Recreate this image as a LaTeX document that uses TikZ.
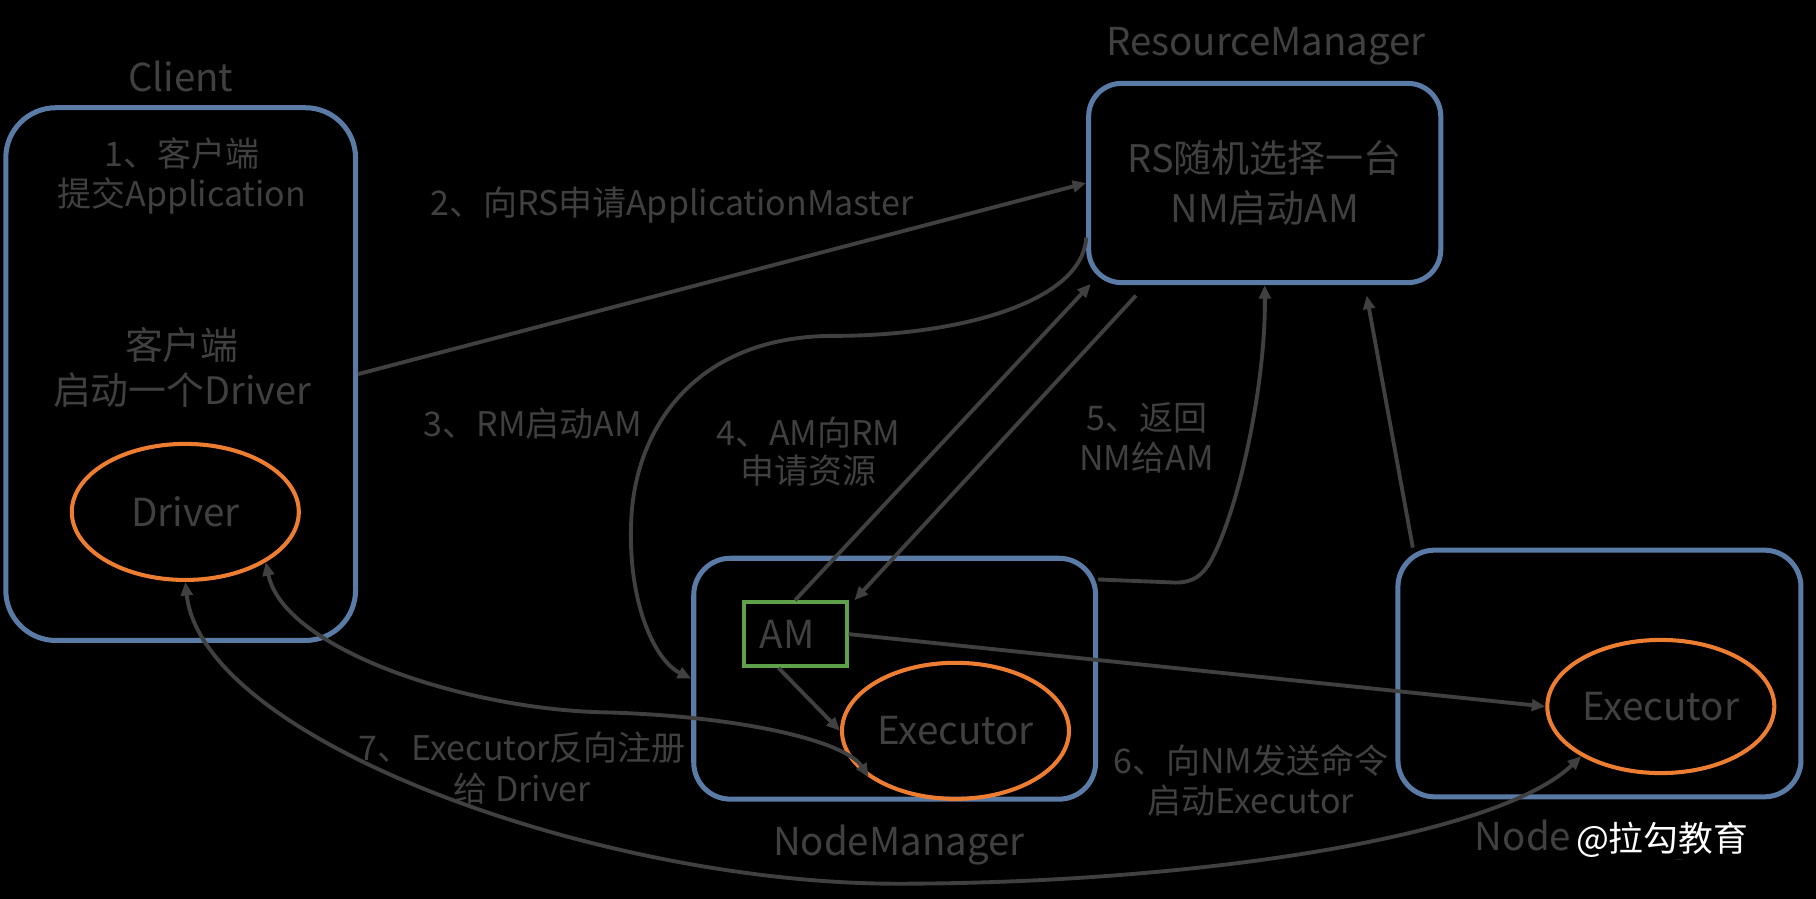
\documentclass[tikz,border=0pt]{standalone}
\usepackage{fontspec}
\setmainfont{Noto Sans CJK SC}
\usepackage{tikz}
\usetikzlibrary{
  arrows.meta,
  shapes.geometric,
  positioning
}
\definecolor{ykBox}{HTML}{5A7BA6}
\definecolor{ykExec}{HTML}{ED7D31}
\definecolor{ykAM}{HTML}{5FA04B}
\definecolor{ykText}{HTML}{404040}
\definecolor{ykLine}{HTML}{404040}
\tikzset{
  host/.style={draw=ykBox, line width=2.6pt, rounded corners=19pt},
  proc/.style={
    draw=ykExec, ellipse, line width=2.1pt, inner sep=0pt,
    minimum width=117.6pt, minimum height=70.5pt,
    text=ykText, font=\fontsize{20}{24}\selectfont
  },
  amrole/.style={
    draw=ykAM, line width=2.1pt, minimum width=53.4pt, minimum height=33pt,
    inner xsep=8.4pt, text width=36.6pt, align=left,
    text=ykText, font=\fontsize{20}{24}\selectfont
  },
  title/.style={text=ykText, font=\fontsize{19.9}{23}\selectfont},
  hosttext/.style={text=ykText, align=center, font=\fontsize{19.7}{26.4}\selectfont},
  note/.style={text=ykText, align=center, font=\fontsize{17.6}{21}\selectfont},
  link/.style={-{Triangle[length=7pt,width=6pt]}, line width=2pt, draw=ykLine},
  twoway/.style={link, {Triangle[length=7pt,width=6pt]}-{Triangle[length=7pt,width=6pt]}},
  stamp/.style={text=white, fill=black, inner sep=1pt, font=\fontsize{18}{22}\selectfont}
}
\begin{document}
\begin{tikzpicture}[x=0.6pt, y=-0.6pt]
  \fill[black] (0,0) rectangle (1568,776);

  % hosts
  \node[host, rounded corners=26pt, minimum width=181.2pt, minimum height=276pt] (client) at (156,323) {};
  \node[host, rounded corners=17pt, minimum width=182.4pt, minimum height=103.2pt, hosttext] (rm) at (1092,158) {RS随机选择一台\\NM启动AM};
  \node[host, minimum width=208.2pt, minimum height=124.8pt] (nm) at (772.5,586) {};
  \node[host, minimum width=208.8pt, minimum height=127.8pt] (nm2) at (1381,581.5) {};

  \node[title] (clientT) at (156,66) {Client};
  \node[title] (rmT) at (1093,40) {ResourceManager};
  \node[title] (nmT) at (776,730) {NodeManager};
  \node[title] (nm2T) at (1382,725) {NodeManager};

  \node[note] (submit) at (157,152) {1、客户端\\提交Application};
  \node[hosttext, font=\fontsize{19.6}{23.4}\selectfont] (start) at (157,317) {客户端\\启动一个Driver};

  % processes
  \node[proc] (driver) at (160,442) {Driver};
  \node[proc] (exec) at (825,631) {Executor};
  \node[proc, minimum height=69pt] (exec2) at (1434,610) {Executor};
  \node[amrole] (am) at (686.5,547.5) {AM};

  % steps
  \node[note] (s2) at (580,177) {2、向RS申请ApplicationMaster};
  \node[note] (s3) at (460,366) {3、RM启动AM};
  \node[note, font=\fontsize{17.6}{19.8}\selectfont] (s4) at (698,390) {4、AM向RM\\申请资源};
  \node[note] (s5) at (990,378) {5、返回\\NM给AM};
  \node[note] (s6) at (1080,674) {6、向NM发送命令\\启动Executor};
  \node[note] (s7) at (451,663) {7、Executor反向注册\\给 Driver};

  \draw[link] (client.east) -- (rm.west);
  \draw[link] (rm.197) .. controls (935,260) and (830,290) .. (720,290)
    .. controls (600,290) and (548,370) .. (545,450)
    .. controls (542,520) and (565,570) .. (nm.west);
  \draw[link] (am.north) -- ([shift={(4,-1)}]rm.south west);
  \draw[link] ([shift={(43,9)}]rm.south west) -- ([xshift=3pt]am.north east);
  \draw[link] (nm.26) -- (1015,503) .. controls (1030,503) and (1038,497) .. (1045,485)
    .. controls (1070,440) and (1093,330) .. (rm.south);
  \draw[link] (nm2.146) -- ([shift={(88,9)}]rm.south);
  \draw[link] (am.east) -- (exec2.west);
  \draw[link] (am.-116) -- (exec.west);
  \draw[twoway] (driver.-32) .. controls (245,560) and (400,612) .. (520,615)
    .. controls (640,618) and (730,640) .. (exec.208);
  \draw[twoway] (driver.south) .. controls (175,640) and (520,763) .. (774,763)
    .. controls (1020,763) and (1290,725) .. (exec2.212);

  \node[stamp] (mark) at (1435,725) {@拉勾教育};
\end{tikzpicture}
\end{document}
